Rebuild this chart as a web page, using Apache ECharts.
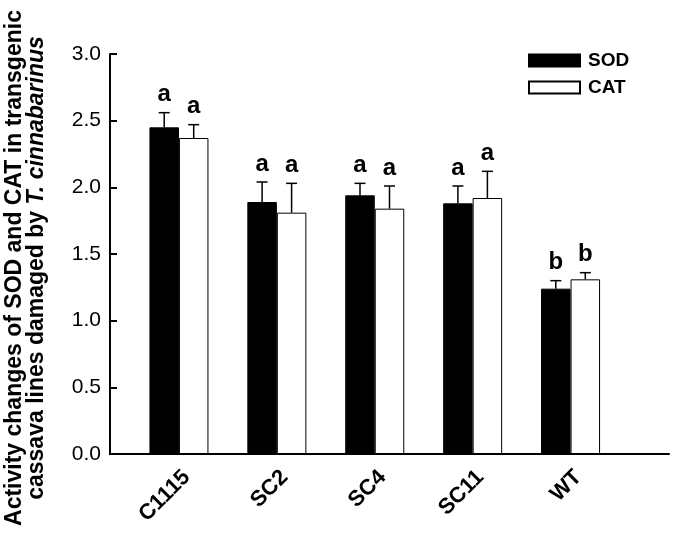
<!DOCTYPE html>
<html>
<head>
<meta charset="utf-8">
<script src="https://cdn.jsdelivr.net/npm/echarts@6/dist/echarts.min.js"></script>
<style>
  html, body { margin: 0; padding: 0; background: #fff; }
  #enzymeChart { width: 675px; height: 537px; }
</style>
</head>
<body>
<div id="enzymeChart"></div>
<script>
var categories = ['C1115', 'SC2', 'SC4', 'SC11', 'WT']
var sodValues = [2.45, 1.89, 1.94, 1.88, 1.24]
var sodErrors = [0.11, 0.15, 0.09, 0.13, 0.06]
var sodLetters = ['a', 'a', 'a', 'a', 'b']
var catValues = [2.37, 1.81, 1.84, 1.92, 1.31]
var catErrors = [0.10, 0.22, 0.17, 0.20, 0.05]
var catLetters = ['a', 'a', 'a', 'a', 'b']

var FONT = '"Liberation Sans", Arial, sans-serif'
var barWidth = 29.5

// error bar (upper only) + significance letter above it
function errorSeries(name, values, errors, letters, side) {
  var data = values.map(function (v, i) { return [i, v, errors[i]] })
  return {
    name: name + ' err',
    type: 'custom',
    xAxisIndex: 1,
    yAxisIndex: 1,
    z: 5,
    data: data,
    renderItem: function (params, api) {
      var i = api.value(0)
      var base = api.coord([i, api.value(1)])
      var top = api.coord([i, api.value(1) + api.value(2)])
      var x = base[0] + side * barWidth / 2
      var cap = 5.5
      return {
        type: 'group',
        children: [
          {type: 'line', shape: {x1: x, y1: base[1], x2: x, y2: top[1]}, style: {stroke: '#000', lineWidth: 1.5}},
          {type: 'line', shape: {x1: x - cap, y1: top[1], x2: x + cap, y2: top[1]}, style: {stroke: '#000', lineWidth: 1.5}},
          {
            type: 'text',
            style: {
              text: letters[params.dataIndex],
              x: x,
              y: top[1] - 6,
              align: 'center',
              verticalAlign: 'bottom',
              fill: '#000',
              font: 'bold 24px ' + FONT
            }
          }
        ]
      }
    }
  }
}

var chart = echarts.init(document.getElementById('enzymeChart'))
var option = {
  animation: false,
  backgroundColor: '#fff',
  textStyle: {fontFamily: FONT},
  grid: [
    {left: 110, right: 6, top: 54, bottom: 83, containLabel: false, outerBoundsMode: 'none'},
    {left: 130, width: 489.5, top: 54, bottom: 83, containLabel: false, outerBoundsMode: 'none'}
  ],
  legend: {
    data: ['SOD', 'CAT'],
    orient: 'vertical',
    left: 523,
    top: 46,
    itemWidth: 51,
    itemHeight: 12,
    itemGap: 8,
    icon: 'rect',
    textStyle: {
      color: '#000',
      fontSize: 19,
      fontWeight: 'bold',
      fontFamily: FONT,
      lineHeight: 18,
      padding: [0, 0, 0, 3]
    }
  },
  xAxis: [
    {
      type: 'value',
      gridIndex: 0,
      min: 0,
      max: 1,
      axisLine: {show: true, onZero: false, lineStyle: {color: '#000', width: 2}},
      axisTick: {show: false},
      axisLabel: {show: false},
      splitLine: {show: false}
    },
    {
      type: 'category',
      gridIndex: 1,
      data: categories,
      axisLine: {show: false},
      axisTick: {show: false},
      axisLabel: {
        rotate: 45,
        margin: 12,
        verticalAlign: 'top',
        color: '#000',
        fontSize: 22,
        fontWeight: 'bold',
        fontFamily: FONT
      }
    }
  ],
  yAxis: [
    {
      type: 'value',
      gridIndex: 0,
      min: 0,
      max: 3,
      interval: 0.5,
      name: 'Activity changes of SOD and CAT in transgenic\ncassava lines damaged by {i|T. cinnabarinus}',
      nameLocation: 'middle',
      nameRotate: 90,
      nameGap: 62,
      nameTextStyle: {
        color: '#000',
        fontSize: 23,
        fontWeight: 'bold',
        fontFamily: FONT,
        lineHeight: 22,
        align: 'center',
        padding: [0, 28, 0, 0],
        rich: {
          i: {fontStyle: 'italic', fontWeight: 'bold', fontSize: 23, fontFamily: FONT, color: '#000', lineHeight: 22}
        }
      },
      axisLine: {show: true, lineStyle: {color: '#000', width: 2}},
      axisTick: {show: true, inside: true, length: 7, lineStyle: {color: '#000', width: 2}},
      axisLabel: {
        margin: 9,
        color: '#000',
        fontSize: 21,
        fontFamily: FONT,
        formatter: function (v) { return v.toFixed(1) }
      },
      splitLine: {show: false}
    },
    {
      type: 'value',
      gridIndex: 1,
      min: 0,
      max: 3,
      show: false
    }
  ],
  series: [
    {
      name: 'SOD',
      type: 'bar',
      xAxisIndex: 1,
      yAxisIndex: 1,
      barWidth: barWidth,
      barGap: '0%',
      itemStyle: {color: '#000', borderColor: '#000', borderWidth: 1},
      data: sodValues
    },
    {
      name: 'CAT',
      type: 'bar',
      xAxisIndex: 1,
      yAxisIndex: 1,
      barWidth: barWidth,
      barGap: '0%',
      itemStyle: {color: '#fff', borderColor: '#000', borderWidth: 1},
      data: catValues
    },
    errorSeries('SOD', sodValues, sodErrors, sodLetters, -1),
    errorSeries('CAT', catValues, catErrors, catLetters, 1)
  ]
}
chart.setOption(option)
</script>
</body>
</html>
